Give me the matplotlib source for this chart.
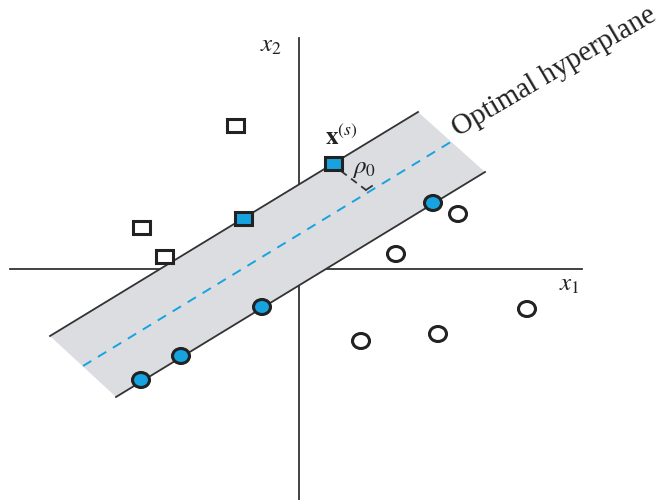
import matplotlib
matplotlib.use("Agg")
import matplotlib.pyplot as plt
from matplotlib.patches import Rectangle, Ellipse, Polygon

plt.rcParams['mathtext.fontset'] = 'stix'

# coordinates in the picture's own frame (x right, y down)
upper_x = [50, 418]
upper_y = [336, 112]
lower_x = [116, 485]
lower_y = [397, 172]
hyper_x = [83, 454]
hyper_y = [366, 140]

open_sq_x = [235, 141, 164]
open_sq_y = [125, 227, 256]
sv_sq_x = [243, 333]
sv_sq_y = [218, 163]
sv_c_x = [141, 181, 262, 433]
sv_c_y = [380, 356, 307, 203]
open_c_x = [458, 396, 361, 438, 527]
open_c_y = [214, 254, 341, 334, 309]

rho_x = [341, 366, 372]
rho_y = [171, 190, 186]

BLUE = '#16a3e0'
GRAY = '#dcdde0'
DARK = '#333333'

fig = plt.figure(figsize=(6.58, 5.0), dpi=100)
ax = fig.add_axes([0, 0, 1, 1])
ax.set_xlim(0, 658)
ax.set_ylim(500, 0)
ax.axis('off')

# coordinate axes
ax.plot([299, 299], [38, 500], color=DARK, lw=1.3, zorder=1)
ax.plot([10, 582], [269, 269], color=DARK, lw=1.3, zorder=1)

# band
band = Polygon([(upper_x[0], upper_y[0]), (upper_x[1], upper_y[1]),
                (lower_x[1], lower_y[1]), (lower_x[0], lower_y[0])],
               closed=True, facecolor=GRAY, edgecolor='none', zorder=2)
ax.add_patch(band)
ax.plot(upper_x, upper_y, color=DARK, lw=1.3, zorder=3)
ax.plot(lower_x, lower_y, color=DARK, lw=1.3, zorder=3)
ax.plot(hyper_x, hyper_y, color=BLUE, lw=1.4, ls=(0, (5, 4)), zorder=3)

# rho0 perpendicular
ax.plot(rho_x[:2], rho_y[:2], color=DARK, lw=1.3, ls=(0, (4, 3)), zorder=3)
ax.plot(rho_x[1:], rho_y[1:], color=DARK, lw=1.3, zorder=3)

sw, sh = 17, 13
for x, y in zip(open_sq_x, open_sq_y):
    ax.add_patch(Rectangle((x - sw / 2, y - sh / 2), sw, sh, facecolor='white',
                           edgecolor='#222222', lw=2.2, zorder=5))
for x, y in zip(sv_sq_x, sv_sq_y):
    ax.add_patch(Rectangle((x - sw / 2, y - sh / 2), sw, sh, facecolor=BLUE,
                           edgecolor='#222222', lw=2.2, zorder=5))
cw, ch = 17, 15
for x, y in zip(sv_c_x, sv_c_y):
    ax.add_patch(Ellipse((x, y), cw, ch, facecolor=BLUE, edgecolor='#222222',
                         lw=2.2, zorder=5))
for x, y in zip(open_c_x, open_c_y):
    ax.add_patch(Ellipse((x, y), cw, ch, facecolor='white', edgecolor='#222222',
                         lw=2.2, zorder=5))

ax.text(271, 45, r'$x_2$', fontsize=18, color='#222222', ha='center', va='center')
ax.text(569, 284, r'$x_1$', fontsize=18, color='#222222', ha='center', va='center')
ax.text(341, 137, r'$\mathbf{x}^{(s)}$', fontsize=18, color='#222222', ha='center', va='center')
ax.text(364, 168, r'$\rho_0$', fontsize=18, color='#222222', ha='center', va='center')
ax.text(458, 137, 'Optimal hyperplane', fontsize=21, family='Liberation Serif',
        color='#222222', rotation=30.5, rotation_mode='anchor', ha='left', va='baseline')

fig.savefig('out.png', dpi=100)
